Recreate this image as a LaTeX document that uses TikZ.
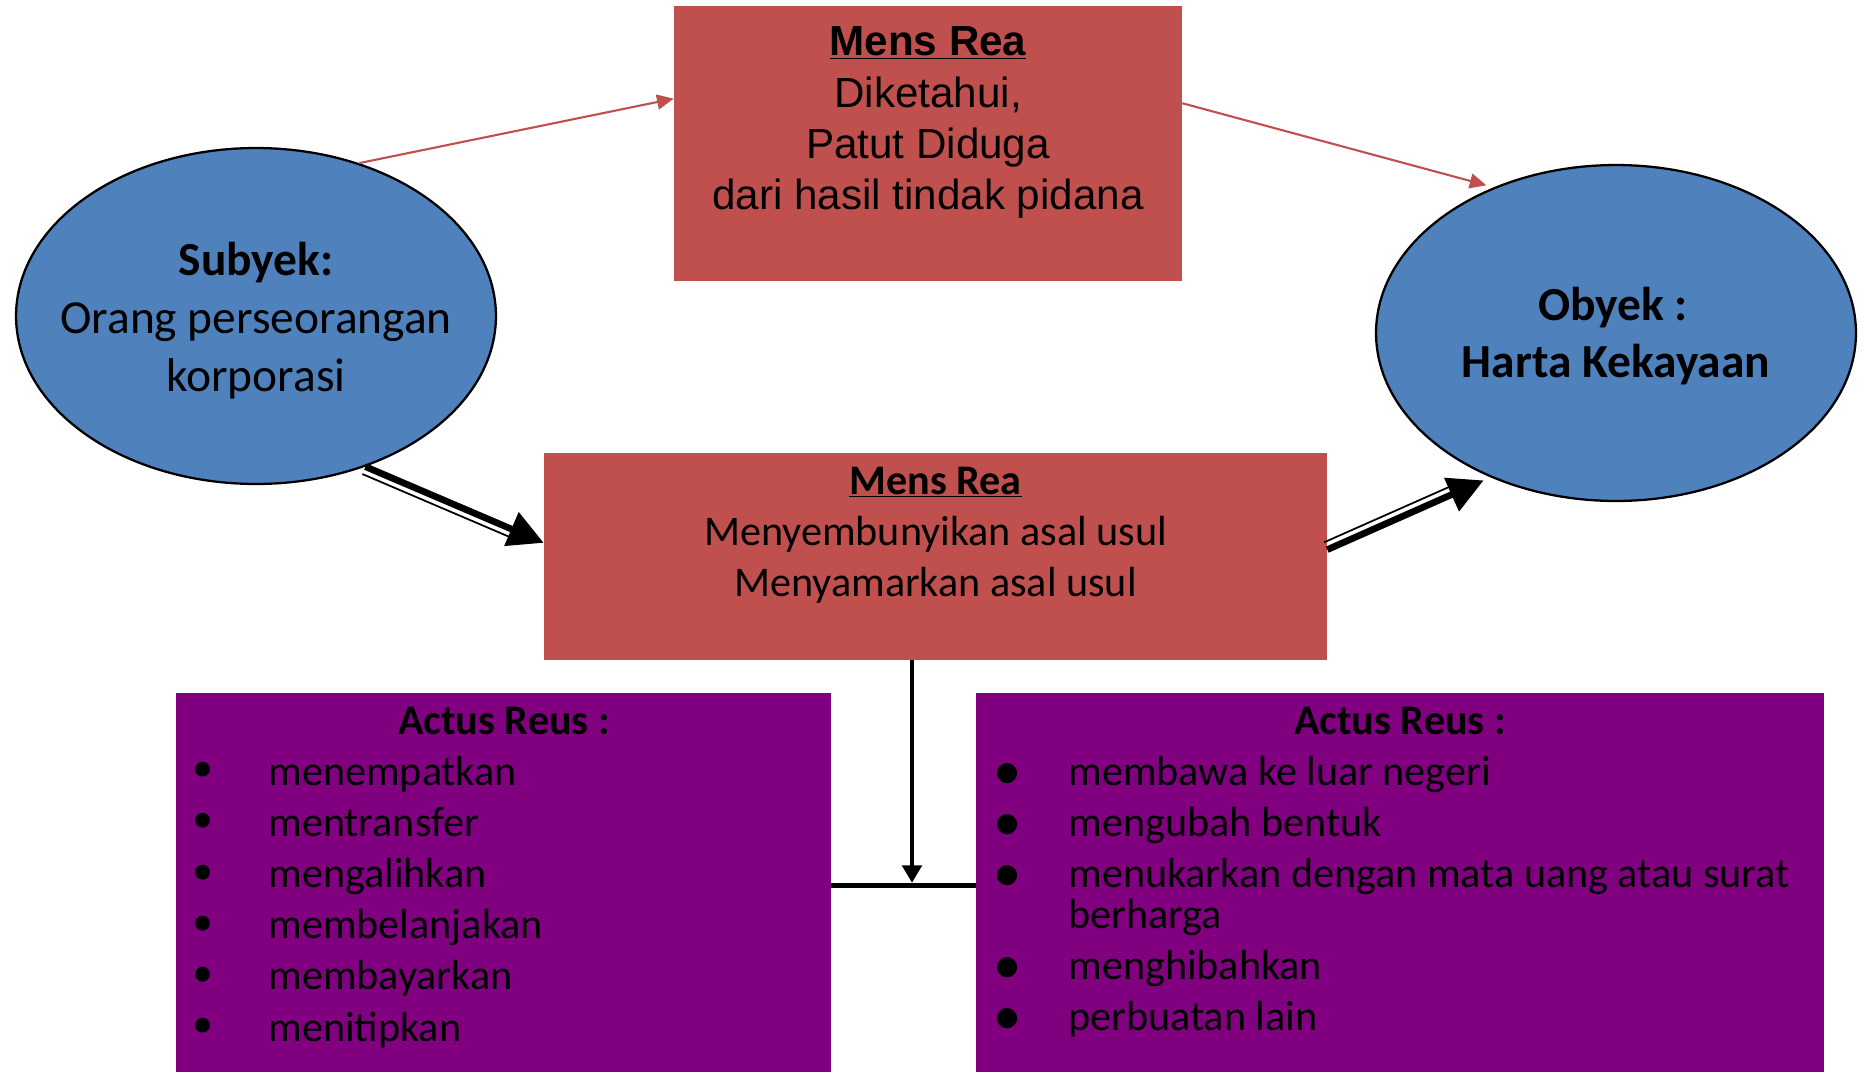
\documentclass[tikz,border=0pt]{standalone}
\usepackage{fontspec}
\setmainfont{Carlito}
\newfontfamily\arialfont{Liberation Sans}
\newfontfamily\dotfont{DejaVu Sans}
\usetikzlibrary{shapes.geometric,arrows.meta,calc}

\definecolor{mensred}{HTML}{C0504D}
\definecolor{orgblue}{HTML}{4F81BD}
\definecolor{actpurple}{HTML}{800080}

\tikzset{
    redbox/.style={fill=mensred, draw=none, inner sep=0pt},
    ellbox/.style={ellipse, fill=orgblue, draw=black, line width=1.3pt,
        minimum width=9.6cm, minimum height=6.72cm, inner sep=0pt},
    purplebox/.style={fill=actpurple, draw=none, inner sep=0pt},
    arialtxt/.style={font=\arialfont\fontsize{24}{29}\selectfont, anchor=base, inner sep=0pt},
    calitxt/.style={font=\fontsize{24}{29}\selectfont, anchor=base, inner sep=0pt},
    elltxt/.style={font=\fontsize{27}{32}\selectfont, anchor=base, inner sep=0pt},
    listtxt/.style={font=\fontsize{24}{29}\selectfont, anchor=base west, inner sep=0pt},
    bulletL/.style={font=\fontsize{24}{29}\selectfont, anchor=center, inner sep=0pt},
    bulletR/.style={font=\dotfont\fontsize{15}{18}\selectfont, anchor=center, inner sep=0pt},
    redarrow/.style={draw=mensred, line width=1.2pt, -{Triangle[length=9.5pt,width=8.5pt]}},
    fatarrow/.style={line width=3.8pt, -{Triangle[length=20pt,width=20pt]}},
    thinline/.style={line width=1pt},
    link/.style={line width=2.8pt},
}

\begin{document}
\begin{tikzpicture}[x=0.02cm, y=-0.02cm]
    \useasboundingbox (0,0) rectangle (1864,1072);

    % boxes and ellipses
    \node[redbox, minimum width=10.16cm, minimum height=5.5cm] (mensA) at (928,143.5) {};
    \node[redbox, minimum width=15.66cm, minimum height=4.14cm] (mensB) at (935.5,556.5) {};
    \node[ellbox] (subj) at (256,316) {};
    \node[ellbox] (obj) at (1616,333) {};
    \node[purplebox, minimum width=13.1cm, minimum height=7.58cm] (actL) at (503.5,882.5) {};
    \node[purplebox, minimum width=16.96cm, minimum height=7.58cm] (actR) at (1400,882.5) {};

    % top box
    \node[arialtxt] (mensA-1) at (928,55) {\textbf{\underline{Mens Rea}}};
    \node[arialtxt] (mensA-2) at (928,107) {Diketahui,};
    \node[arialtxt] (mensA-3) at (928,158) {Patut Diduga};
    \node[arialtxt] (mensA-4) at (928,209) {dari hasil tindak pidana};

    % middle box
    \node[calitxt] (mensB-1) at (935.5,494) {\textbf{\underline{Mens Rea}}};
    \node[calitxt] (mensB-2) at (935.5,545) {Menyembunyikan asal usul};
    \node[calitxt] (mensB-3) at (935.5,596) {Menyamarkan asal usul};

    % ellipses
    \node[elltxt] (subj-1) at (256,275) {\textbf{Subyek:}};
    \node[elltxt] (subj-2) at (256,333.5) {Orang perseorangan};
    \node[elltxt] (subj-3) at (256,391.5) {korporasi};
    \node[elltxt] (obj-1) at (1613,320) {\textbf{Obyek :}};
    \node[elltxt] (obj-2) at (1616,377) {\textbf{Harta Kekayaan}};

    % actus reus lists
    \node[calitxt] (actL-h) at (504,734) {\textbf{Actus Reus :}};
    \node[calitxt] (actR-h) at (1400,734) {\textbf{Actus Reus :}};
    \foreach \word [count=\i] in {menempatkan, mentransfer, mengalihkan,
            membelanjakan, membayarkan, menitipkan} {
        \node[bulletL] (dotL-\i) at (203, 772+51.2*\i-51.2) {•};
        \node[listtxt] (itemL-\i) at (268, 785+51.2*\i-51.2) {\word};
    }
    \foreach \y/\word [count=\i] in {785/membawa ke luar negeri, 836/mengubah bentuk,
            887/menukarkan dengan mata uang atau surat, 979/menghibahkan,
            1030/perbuatan lain} {
        \node[bulletR] (dotR-\i) at (1007, \y-11) {●};
        \node[listtxt] (itemR-\i) at (1068, \y) {\word};
    }
    \node[listtxt] (itemR-3b) at (1068,928) {berharga};

    % connectors
    \draw[redarrow] (subj.56.6) -- (mensA.170.5);
    \draw[redarrow, shorten >=0.15cm] (mensA.9.5) -- (obj.130.5);

    \draw[fatarrow] (subj.306.3) -- (mensB.178.9);
    \draw[thinline, shorten >=18pt]
        ($(subj.306.3)!0.16cm!-90:(mensB.178.9)$) -- ($(mensB.178.9)!0.16cm!90:(subj.306.3)$);
    \draw[fatarrow, shorten >=0.15cm] (mensB.1.1) -- (obj.229.5);
    \draw[thinline, shorten >=22pt]
        ($(mensB.1.1)!0.16cm!90:(obj.229.5)$) -- ($(obj.229.5)!0.16cm!-90:(mensB.1.1)$);

    \coordinate (junc) at (912,885.5);
    \draw[link] (actL.east |- junc) -- (actR.west |- junc);
    \draw[link, -{Triangle[length=10pt,width=11pt]}, shorten >=1.5pt] (mensB.south -| junc) -- (junc);
\end{tikzpicture}
\end{document}
